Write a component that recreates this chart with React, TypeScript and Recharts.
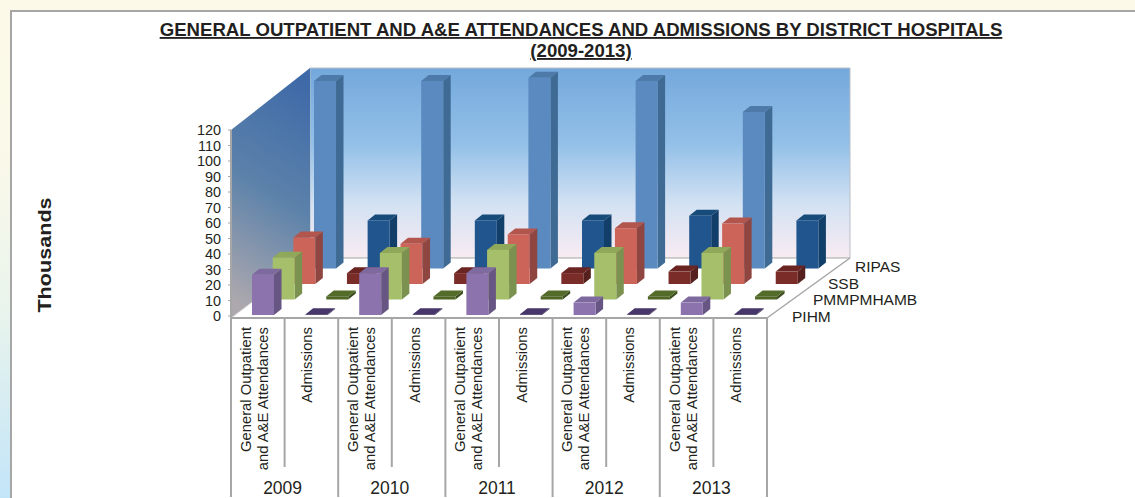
import React from 'react';
import { Bar, ComposedChart, XAxis, YAxis } from 'recharts';

const years = ['2009', '2010', '2011', '2012', '2013'];
const measures = ['General Outpatient|and A&E Attendances', 'Admissions'];
const yTicks = [0, 10, 20, 30, 40, 50, 60, 70, 80, 90, 100, 110, 120];

// Each list alternates General/A&E, Admissions for 2009..2013
const pihm = [26, 0.5, 27, 0.5, 27, 0.5, 8, 0.5, 8, 0.5];
const pmm = [27, 2, 30, 2, 32, 2, 30, 2, 30, 2];
const ssb = [30, 7, 26, 7, 32, 7, 36, 8, 39, 8];
const ripas = [121, 31, 121, 31, 123, 31, 121, 34, 101, 31];

const seriesNames = ['PIHM', 'PMMPMHAMB', 'SSB', 'RIPAS'];

const data = years.flatMap((year, y) =>
  measures.map((measure, m) => {
    const i = y * 2 + m;
    return { key: `${year}-${m}`, year, measure, PIHM: pihm[i], PMMPMHAMB: pmm[i], SSB: ssb[i], RIPAS: ripas[i] };
  }),
);

const FONT = '"Liberation Sans", Arial, sans-serif';
const GRAY = '#a6a6a6';
const TEXT = '#231f20';
const BAND = 53.6;
const FLOOR_Y = 318;

// front / top / side per series, first General, then Admissions
const palette: Record<string, string[][]> = {
  PIHM: [['#8c73ad', '#7f6aa0', '#675583'], ['#3f2f5d', '#46366a', '#32254a']],
  PMMPMHAMB: [['#a6bf6b', '#8fa85a', '#7b9150'], ['#4f6627', '#546c2a', '#3b4c1d']],
  SSB: [['#cc6459', '#b2554d', '#8f4640'], ['#792c28', '#6a2522', '#55201d']],
  RIPAS: [['#5a8abf', '#4d7aa8', '#3f6a94'], ['#21558e', '#174b7a', '#123f6a']],
};

const Bar3D = (props: any) => {
  const { x, y, width, height, index, name, row } = props;
  const [front, top, side] = palette[name][index % 2];
  // push the row back along the floor
  const ox = x + 5 + row * 20.67;
  const oy = y - 1 - row * 15.5;
  const dx = 7.5;
  const dy = 6;
  return (
    <g>
      <polygon
        points={`${ox + width},${oy} ${ox + width + dx},${oy - dy} ${ox + width + dx},${oy + height - dy} ${ox + width},${oy + height}`}
        fill={side}
      />
      <polygon
        points={`${ox},${oy} ${ox + dx},${oy - dy} ${ox + width + dx},${oy - dy} ${ox + width},${oy}`}
        fill={top}
      />
      <rect x={ox} y={oy} width={width} height={height} fill={front} />
    </g>
  );
};

const CategoryTick = (props: any) => {
  const { x, index } = props;
  const item = data[index];
  const left = x - BAND / 2;
  const isGeneral = index % 2 === 0;
  const lines = item.measure.split('|');
  return (
    <g fontFamily={FONT} fill={TEXT}>
      <line x1={left} x2={left} y1={FLOOR_Y} y2={isGeneral ? 497 : 467} stroke={GRAY} strokeWidth={2} />
      {index === data.length - 1 && (
        <line x1={left + BAND} x2={left + BAND} y1={FLOOR_Y} y2={497} stroke={GRAY} strokeWidth={2} />
      )}
      {lines.length === 2 ? (
        <>
          <text transform={`translate(${x - 7},327) rotate(-90)`} textAnchor="end" fontSize={14.8}>{lines[0]}</text>
          <text transform={`translate(${x + 10},327) rotate(-90)`} textAnchor="end" fontSize={14.8}>{lines[1]}</text>
        </>
      ) : (
        <text transform={`translate(${x + 1},327) rotate(-90)`} textAnchor="end" fontSize={14.8}>{lines[0]}</text>
      )}
      {isGeneral && (
        <text x={x + BAND / 2 - 2} y={493.5} textAnchor="middle" fontSize={17.5}>{item.year}</text>
      )}
    </g>
  );
};

const Backdrop = () => (
  <svg width={1135} height={498} style={{ position: 'absolute', left: 0, top: 0 }}>
    <defs>
      <linearGradient id="backWall" x1="0" y1="0" x2="0" y2="1">
        <stop offset="0" stopColor="#74a8dc" />
        <stop offset="0.4" stopColor="#93c0e8" />
        <stop offset="0.72" stopColor="#d3e2f3" />
        <stop offset="1" stopColor="#f9ebf2" />
      </linearGradient>
      <linearGradient id="sideWall" x1="0.6" y1="0" x2="0.4" y2="1">
        <stop offset="0" stopColor="#3f6aa8" />
        <stop offset="0.5" stopColor="#5c82aa" />
        <stop offset="1" stopColor="#aca8ae" />
      </linearGradient>
    </defs>
    <polygon points="310,68 850,68 850,258 310,258" fill="url(#backWall)" stroke="#b9bdc6" strokeWidth={1} />
    <polygon points="231,130 310,68 310,258 231,318" fill="url(#sideWall)" />
    <polygon points="231,318 310,258 850,258 767,318" fill="#ffffff" />
    <line x1={310} y1={258} x2={850} y2={258} stroke="#c4c4c4" strokeWidth={1.5} />
    <line x1={767} y1={318} x2={850} y2={258} stroke={GRAY} strokeWidth={1.5} />
    <line x1={231} y1={318} x2={310} y2={258} stroke="#c8c8c8" strokeWidth={1} />
    <line x1={230} y1={318} x2={768} y2={318} stroke={GRAY} strokeWidth={2} />
    <line x1={231} y1={130} x2={231} y2={318} stroke={GRAY} strokeWidth={2} />
    <g fontFamily={FONT} fill={TEXT} fontSize={15.5}>
      <text x={855} y={272}>RIPAS</text>
      <text x={828} y={289}>SSB</text>
      <text x={813} y={305}>PMMPMHAMB</text>
      <text x={792} y={322}>PIHM</text>
    </g>
    <g fontFamily={FONT} fill={TEXT} fontSize={18.6} fontWeight="bold" textAnchor="middle" textDecoration="underline">
      <text x={581} y={36}>GENERAL OUTPATIENT AND A&amp;E ATTENDANCES AND ADMISSIONS BY DISTRICT HOSPITALS</text>
      <text x={581} y={57}>(2009-2013)</text>
    </g>
    <text
      transform="translate(51,255) rotate(-90) scale(1.2,1)"
      textAnchor="middle"
      fontFamily={FONT}
      fontWeight="bold"
      fontSize={18}
      fill={TEXT}
    >
      Thousands
    </text>
  </svg>
);

export default function App() {
  return (
    <div
      style={{
        position: 'absolute',
        left: 0,
        top: 0,
        width: 1135,
        height: 498,
        overflow: 'hidden',
        background: 'linear-gradient(180deg, #fcf9e8 0%, #fbf9e9 30%, #e9f4ec 62%, #c3e5f8 100%)',
      }}
    >
      <div
        style={{
          position: 'absolute',
          left: 10,
          top: 10,
          right: 0,
          bottom: 0,
          background: '#ffffff',
          borderLeft: `2px solid ${GRAY}`,
          borderTop: `2px solid ${GRAY}`,
        }}
      />
      <Backdrop />
      <div style={{ position: 'absolute', left: 0, top: 0 }}>
        {/* the tallest column goes a little past the 120 tick, so the domain runs to 123 */}
        <ComposedChart
          width={1135}
          height={498}
          data={data}
          margin={{ top: 125.35, right: 368, bottom: 0, left: 171 }}
          barSize={22}
          barGap={-22}
        >
          <XAxis
            dataKey="key"
            interval={0}
            height={182}
            axisLine={false}
            tickLine={false}
            tick={<CategoryTick />}
          />
          <YAxis
            width={60}
            domain={[0, 123]}
            ticks={yTicks}
            interval={0}
            axisLine={false}
            tickLine={{ stroke: GRAY }}
            tickSize={3}
            tickMargin={7}
            tick={{ fill: TEXT, fontSize: 14.4, fontFamily: FONT }}
          />
          {[...seriesNames].reverse().map((name) => (
            <Bar
              key={name}
              dataKey={name}
              name={name}
              isAnimationActive={false}
              shape={(p: any) => <Bar3D {...p} name={name} row={seriesNames.indexOf(name)} />}
            />
          ))}
        </ComposedChart>
      </div>
    </div>
  );
}
